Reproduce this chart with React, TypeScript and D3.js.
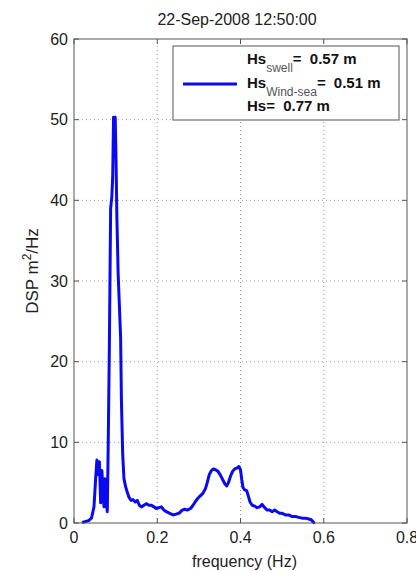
import React from "react";
import * as d3 from "d3";

const W = 416;
const H = 571;
const margin = { top: 39, right: 9, bottom: 48, left: 74 };

const title = "22-Sep-2008 12:50:00";
const xLabel = "frequency (Hz)";
const xTicks = [0, 0.2, 0.4, 0.6, 0.8];
const yTicks = [0, 10, 20, 30, 40, 50, 60];

// spectrum (Hz, m^2/Hz)
const freq = [
  0.022, 0.035, 0.042, 0.048, 0.052, 0.055, 0.058, 0.061, 0.064, 0.067, 0.069,
  0.072, 0.074, 0.077, 0.08, 0.082, 0.085, 0.088, 0.091, 0.093, 0.095, 0.097,
  0.099, 0.101, 0.103, 0.106, 0.109, 0.112, 0.114, 0.117, 0.12, 0.124, 0.128,
  0.132, 0.137, 0.142, 0.147, 0.152, 0.157, 0.162, 0.168, 0.174, 0.18, 0.186,
  0.192, 0.198, 0.204, 0.21, 0.216, 0.222, 0.23, 0.238, 0.245, 0.252, 0.26,
  0.266, 0.272, 0.28, 0.286, 0.292, 0.298, 0.304, 0.31, 0.316, 0.32, 0.325,
  0.33, 0.335, 0.34, 0.346, 0.352, 0.358, 0.363, 0.367, 0.371, 0.376, 0.381,
  0.386, 0.391, 0.396, 0.4, 0.403, 0.406, 0.41, 0.415, 0.419, 0.423, 0.428,
  0.434, 0.44, 0.446, 0.452, 0.458, 0.464, 0.47, 0.476, 0.482, 0.488, 0.494,
  0.5, 0.508, 0.516, 0.524, 0.532, 0.54, 0.548, 0.556, 0.564, 0.57, 0.576,
];
const dsp = [
  0.1, 0.3, 0.6, 2.0, 5.5, 7.8, 6.0, 7.6, 2.5, 6.5, 4.5,
  2.0, 5.5, 3.0, 1.4, 9.0, 22, 39, 40.5, 43, 50.3, 49.5,
  50.3, 45, 38, 31, 27, 23, 15, 8.5, 5.5, 4.5, 3.8,
  3.2, 2.8, 2.9, 2.6, 2.8, 2.2, 2.0, 2.2, 2.4, 2.2, 2.2,
  2.0, 1.8, 1.9, 2.0, 1.6, 1.4, 1.2, 1.0, 1.1, 1.2, 1.6,
  1.7, 1.6, 1.8, 2.2, 2.7, 3.1, 3.4, 3.7, 4.3, 5.0, 6.0,
  6.5, 6.7, 6.6, 6.4, 5.9, 5.3, 4.8, 4.6, 5.0, 5.8, 6.4,
  6.7, 6.8, 7.0, 6.6, 5.4, 4.4, 4.1, 4.0, 3.3, 2.6, 2.2,
  2.1, 1.9, 2.0, 2.3, 1.9, 1.6, 1.6, 1.4, 1.6, 1.4, 1.2,
  1.2, 1.0, 1.0, 0.8, 0.8, 0.7, 0.6, 0.6, 0.5, 0.4, 0.05,
];

const legendItems = [
  { name: "Hs", sub: "swell", value: "0.57 m" },
  { name: "Hs", sub: "Wind-sea", value: "0.51 m" },
  { name: "Hs", sub: "", value: "0.77 m" },
];

const FONT = "'Liberation Sans', Arial, sans-serif";
const LINE = "#0a0af0";
const AXIS = "#555";

export default function App() {
  const x = d3
    .scaleLinear()
    .domain([0, 0.8])
    .range([margin.left, W - margin.right]);
  const y = d3
    .scaleLinear()
    .domain([0, 60])
    .range([H - margin.bottom, margin.top]);

  const pts: [number, number][] = freq.map((f, i) => [f, dsp[i]]);
  const line = d3
    .line<[number, number]>()
    .x((d) => x(d[0]))
    .y((d) => y(d[1]));

  const x0 = x.range()[0];
  const x1 = x.range()[1];
  const y0 = y.range()[0];
  const y1 = y.range()[1];
  const tick = 5;

  // legend box
  const lg = { left: 173, top: 46, right: 399, bottom: 120 };

  return (
    <svg
      width={W}
      height={H}
      style={{ position: "absolute", left: 0, top: 0, background: "#fff" }}
      fontFamily={FONT}
    >
      <text x={237} y={25} textAnchor="middle" fontSize={16} fill="#222">
        {title}
      </text>

      {/* grid */}
      {xTicks.slice(1, -1).map((t) => (
        <line
          key={"gx" + t}
          x1={x(t)}
          x2={x(t)}
          y1={y0}
          y2={y1}
          stroke="#999"
          strokeDasharray="1,3"
        />
      ))}
      {yTicks.slice(1, -1).map((t) => (
        <line
          key={"gy" + t}
          x1={x0}
          x2={x1}
          y1={y(t)}
          y2={y(t)}
          stroke="#999"
          strokeDasharray="1,3"
        />
      ))}

      {/* ticks */}
      {xTicks.map((t) => (
        <g key={"tx" + t} stroke={AXIS}>
          <line x1={x(t)} x2={x(t)} y1={y0} y2={y0 - tick} />
          <line x1={x(t)} x2={x(t)} y1={y1} y2={y1 + tick} />
        </g>
      ))}
      {yTicks.map((t) => (
        <g key={"ty" + t} stroke={AXIS}>
          <line x1={x0} x2={x0 + tick} y1={y(t)} y2={y(t)} />
          <line x1={x1} x2={x1 - tick} y1={y(t)} y2={y(t)} />
        </g>
      ))}

      <path
        d={line(pts) || ""}
        fill="none"
        stroke={LINE}
        strokeWidth={3}
        strokeLinejoin="round"
        strokeLinecap="round"
      />

      <rect
        x={x0}
        y={y1}
        width={x1 - x0}
        height={y0 - y1}
        fill="none"
        stroke={AXIS}
      />

      {/* tick labels */}
      {xTicks.map((t) => (
        <text
          key={"lx" + t}
          x={x(t)}
          y={y0 + 20}
          textAnchor="middle"
          fontSize={16}
          fill="#222"
        >
          {t === 0 ? "0" : d3.format(".1f")(t)}
        </text>
      ))}
      {yTicks.map((t) => (
        <text
          key={"ly" + t}
          x={x0 - 6}
          y={y(t)}
          dy="0.36em"
          textAnchor="end"
          fontSize={16}
          fill="#222"
        >
          {t}
        </text>
      ))}

      <text
        x={(x0 + x1) / 2 + 4}
        y={567}
        textAnchor="middle"
        fontSize={16}
        fill="#222"
      >
        {xLabel}
      </text>
      <text
        transform={`translate(38,${(y0 + y1) / 2 - 10}) rotate(-90)`}
        textAnchor="middle"
        fontSize={17}
        fill="#222"
      >
        DSP m<tspan dy={-7} fontSize={12}>2</tspan>
        <tspan dy={7}>/Hz</tspan>
      </text>

      {/* legend */}
      <rect
        x={lg.left}
        y={lg.top}
        width={lg.right - lg.left}
        height={lg.bottom - lg.top}
        fill="#fff"
        stroke={AXIS}
      />
      <line
        x1={183}
        x2={237}
        y1={84}
        y2={84}
        stroke={LINE}
        strokeWidth={3}
      />
      {legendItems.map((d, i) => (
        <text
          key={"lg" + i}
          x={247}
          y={64 + i * 23.5}
          fontSize={15}
          fontWeight="bold"
          fill="#111"
        >
          {d.name}
          {d.sub ? (
            <>
              <tspan dy={8} fontSize={12} fontWeight="normal" fill="#555">
                {d.sub}
              </tspan>
              <tspan dy={-8}>{"= "}</tspan>
            </>
          ) : (
            <tspan>{"= "}</tspan>
          )}
          <tspan dx={4}>{d.value}</tspan>
        </text>
      ))}
    </svg>
  );
}
